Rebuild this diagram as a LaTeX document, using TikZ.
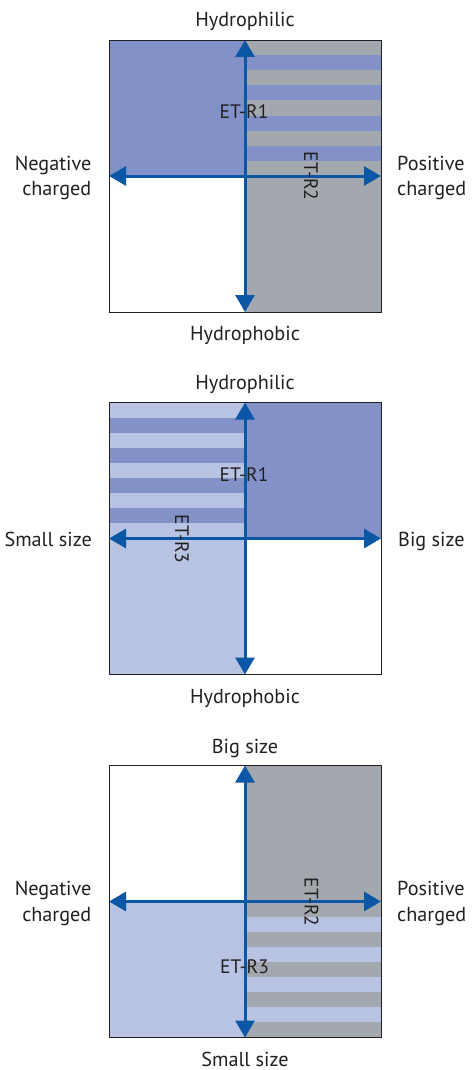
\documentclass[tikz,border=0pt]{standalone}
\usepackage{fontspec}
\setmainfont{PT Sans}
\usetikzlibrary{arrows.meta}

\definecolor{axisblue}{HTML}{0A57A6}
\definecolor{philic}{HTML}{8391C9}
\definecolor{charge}{HTML}{A2A8AE}
\definecolor{smallsz}{HTML}{B8C2E2}
\definecolor{ink}{HTML}{231F20}

\tikzset{
  axisline/.style={draw=axisblue, line width=3pt,
    {Triangle[width=19pt,length=17pt]}-{Triangle[width=19pt,length=17pt]}},
  frame/.style={draw=ink, line width=0.9pt},
  lbl/.style={font=\fontsize{20.2}{25.5}\selectfont, text=ink, inner sep=0pt},
  tag/.style={font=\fontsize{19.5}{25}\selectfont, text=ink, inner sep=0pt},
}

% one stripe band of the 9-band quadrant pattern (band height 136/9)
\newcommand{\bandrow}[4]{% x0, x1, top y of quadrant, band index
  \fill (#1,{#3+#4*136/9}) rectangle (#2,{#3+(#4+1)*136/9});}

\begin{document}
\begin{tikzpicture}[x=1pt,y=-1pt]
\useasboundingbox (0,0) rectangle (471,1070);

% ---------- panel 1: hydrophilicity vs. charge ----------
\begin{scope}[shift={(0,40)}]
  \fill[philic] (109,0) rectangle (245,136);
  \fill[charge] (245,0) rectangle (381,272);
  \begin{scope}[philic]
    \foreach \k in {1,3,5,7} {\bandrow{245}{381}{0}{\k}}
  \end{scope}
  \draw[frame] (109,0) rectangle (381,272);
  \coordinate (a1n) at (245,0);   \coordinate (a1s) at (245,272);
  \coordinate (a1w) at (109,136); \coordinate (a1e) at (381,136);
  \draw[axisline] (a1s) -- (a1n);
  \draw[axisline] (a1w) -- (a1e);
  \node[lbl, anchor=base] (p1n) at (245,-13.5) {Hydrophilic};
  \node[lbl, anchor=base] (p1s) at (245,300.5) {Hydrophobic};
  \node[lbl, anchor=east, align=right] (p1w) at (91.5,138) {Negative\\charged};
  \node[lbl, anchor=west, align=left] (p1e) at (397,138) {Positive\\charged};
  \node[tag] (p1r1) at (244,72) {ET-R1};
  \node[tag, rotate=-90] (p1r2) at (311,136) {ET-R2};
\end{scope}

% ---------- panel 2: hydrophilicity vs. size ----------
\begin{scope}[shift={(0,402.5)}]
  \fill[smallsz] (109,0) rectangle (245,272);
  \fill[philic] (245,0) rectangle (381,136);
  \begin{scope}[philic]
    \foreach \k in {1,3,5,7} {\bandrow{109}{245}{0}{\k}}
  \end{scope}
  \draw[frame] (109,0) rectangle (381,272);
  \coordinate (a2n) at (245,0);   \coordinate (a2s) at (245,272);
  \coordinate (a2w) at (109,136); \coordinate (a2e) at (381,136);
  \draw[axisline] (a2s) -- (a2n);
  \draw[axisline] (a2w) -- (a2e);
  \node[lbl, anchor=base] (p2n) at (245,-13.5) {Hydrophilic};
  \node[lbl, anchor=base] (p2s) at (245,300.5) {Hydrophobic};
  \node[lbl, anchor=base east] (p2w) at (92,144) {Small size};
  \node[lbl, anchor=base west] (p2e) at (398,144) {Big size};
  \node[tag] (p2r1) at (244,72) {ET-R1};
  \node[tag, rotate=-90] (p2r3) at (182,136.5) {ET-R3};
\end{scope}

% ---------- panel 3: size vs. charge ----------
\begin{scope}[shift={(0,765.5)}]
  \fill[charge] (245,0) rectangle (381,272);
  \fill[smallsz] (109,136) rectangle (245,272);
  \begin{scope}[smallsz]
    \foreach \k in {1,3,5,7} {\bandrow{245}{381}{136}{\k}}
  \end{scope}
  \draw[frame] (109,0) rectangle (381,272);
  \coordinate (a3n) at (245,0);   \coordinate (a3s) at (245,272);
  \coordinate (a3w) at (109,136); \coordinate (a3e) at (381,136);
  \draw[axisline] (a3s) -- (a3n);
  \draw[axisline] (a3w) -- (a3e);
  \node[lbl, anchor=base] (p3n) at (245,-12) {Big size};
  \node[lbl, anchor=base] (p3s) at (245,300.5) {Small size};
  \node[lbl, anchor=east, align=right] (p3w) at (91.5,138) {Negative\\charged};
  \node[lbl, anchor=west, align=left] (p3e) at (397,138) {Positive\\charged};
  \node[tag, rotate=-90] (p3r2) at (311.5,136.5) {ET-R2};
  \node[tag] (p3r3) at (244.5,201.5) {ET-R3};
\end{scope}
\end{tikzpicture}
\end{document}
